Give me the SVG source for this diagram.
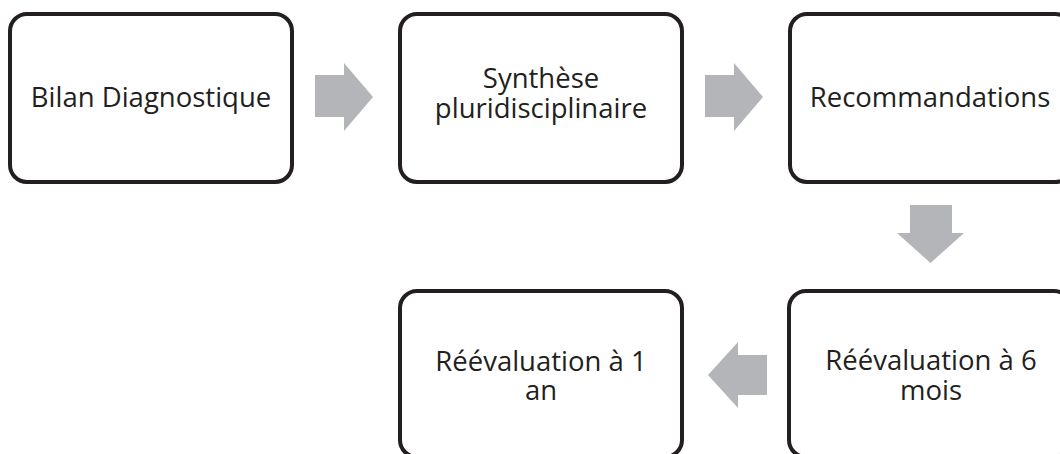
<svg xmlns="http://www.w3.org/2000/svg" width="1060" height="454" viewBox="0 0 1060 454">
<style>
.box{fill:#ffffff;stroke:#231f20;stroke-width:4}
.arrow{fill:#b4b5b8;stroke:none}
.lbl{font-family:"Open Sans","Noto Sans",sans-serif;font-size:27.5px;fill:#231f20;text-anchor:middle}
</style>
<rect width="1060" height="454" fill="#ffffff"/>
<g id="connectors">
<polygon class="arrow" points="315,75 344,75 344,63 373,97 344,131 344,117 315,117"/>
<polygon class="arrow" points="705,75 734,75 734,63 763,97 734,131 734,117 705,117"/>
<polygon class="arrow" points="910,205 952,205 952,233 964,233 930.5,263 897,233 910,233"/>
<polygon class="arrow" points="767,355 738,355 738,342 708,375 738,408 738,395 767,395"/>
</g>
<g id="node-bilan">
<rect class="box" x="10" y="14" width="282" height="168" rx="17"/>
<text class="lbl" x="151" y="107">Bilan Diagnostique</text>
</g>
<g id="node-synthese">
<rect class="box" x="400" y="14" width="282" height="168" rx="17"/>
<text class="lbl" x="541" y="88">Synthèse</text>
<text class="lbl" x="541" y="118">pluridisciplinaire</text>
</g>
<g id="node-recommandations">
<rect class="box" x="790" y="14" width="282" height="168" rx="17"/>
<text class="lbl" x="930" y="107">Recommandations</text>
</g>
<g id="node-reeval6">
<rect class="box" x="789" y="291" width="282" height="166" rx="17"/>
<text class="lbl" x="931" y="370">Réévaluation à 6</text>
<text class="lbl" x="931" y="400">mois</text>
</g>
<g id="node-reeval1">
<rect class="box" x="400" y="291" width="282" height="166" rx="17"/>
<text class="lbl" x="541" y="371">Réévaluation à 1</text>
<text class="lbl" x="541" y="400">an</text>
</g>
</svg>
